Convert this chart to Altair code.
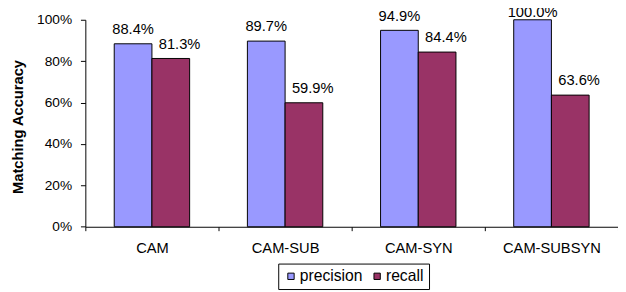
import altair as alt
import pandas as pd

categories = ["CAM", "CAM-SUB", "CAM-SYN", "CAM-SUBSYN"]
series = ["precision", "recall"]
precision = [0.884, 0.897, 0.949, 1.000]
recall = [0.813, 0.599, 0.844, 0.636]
colors = ["#9999FF", "#993366"]
y_ticks = [0, 0.2, 0.4, 0.6, 0.8, 1.0]

rows = []
for c, p, r in zip(categories, precision, recall):
    rows.append({"category": c, "series": "precision", "value": p})
    rows.append({"category": c, "series": "recall", "value": r})
df = pd.DataFrame(rows)

FONT = "Liberation Sans, Arial, sans-serif"

x = alt.X(
    "category:N", sort=categories, title=None,
    scale=alt.Scale(paddingInner=0, paddingOuter=0),
    axis=alt.Axis(labelAngle=0, tickBand="extent", tickSize=4, labelPadding=10,
                  labelFontSize=15, labelFont=FONT, labelColor="black",
                  domainColor="black", tickColor="black", labelBaseline="top"),
)
xo = alt.XOffset("series:N", sort=series,
                 scale=alt.Scale(paddingOuter=0.766, paddingInner=0))
y = alt.Y(
    "value:Q", scale=alt.Scale(domain=[0, 1]),
    axis=alt.Axis(values=y_ticks, format=".0%", grid=False, tickSize=5, labelPadding=9,
                  labelFontSize=14, labelFont=FONT, labelColor="black",
                  domainColor="black", tickColor="black",
                  title="Matching Accuracy", titleFont=FONT, titleFontSize=15,
                  titleFontWeight="bold", titleColor="black", titleX=-64, titleY=109,
                  titleBaseline="alphabetic", titleAngle=270, titleAlign="center"),
)
color = alt.Color(
    "series:N", sort=series,
    scale=alt.Scale(domain=series, range=colors),
    legend=alt.Legend(title=None, orient="none", legendX=197, legendY=249,
                      direction="horizontal", strokeColor="black", padding=5,
                      symbolType="square", symbolSize=42, symbolStrokeColor="black",
                      symbolStrokeWidth=1, labelFontSize=16, labelFont=FONT,
                      labelColor="black", columnPadding=6, labelOffset=1,
                      fillColor="white"),
)

base = alt.Chart(df)
bars = base.mark_bar(stroke="black", strokeWidth=1).encode(
    x=x, xOffset=xo, y=y, color=color
)

def label_layer(filt, dx, dy):
    return base.transform_filter(filt).mark_text(
        dx=dx, dy=dy, baseline="alphabetic", fontSize=15, font=FONT, color="black"
    ).encode(
        x=alt.X("category:N", sort=categories),
        xOffset=xo,
        y=alt.Y("value:Q"),
        text=alt.Text("value:Q", format=".1%"),
    )

prec_labels = label_layer("datum.series == 'precision' && datum.value < 0.99", 0, -10)
prec_top = label_layer("datum.series == 'precision' && datum.value >= 0.99", 0, -3)
rec_labels = label_layer("datum.series == 'recall'", 9, -10)

chart = alt.layer(bars, prec_labels, prec_top, rec_labels).properties(
    width=544, height=211.4,
    padding={"left": 79, "top": 9, "right": 0, "bottom": 64},
    autosize=alt.AutoSizeParams(type="none"),
).configure_view(stroke=None)

chart.save("out.html", embed_options={"renderer": "svg", "actions": False})
